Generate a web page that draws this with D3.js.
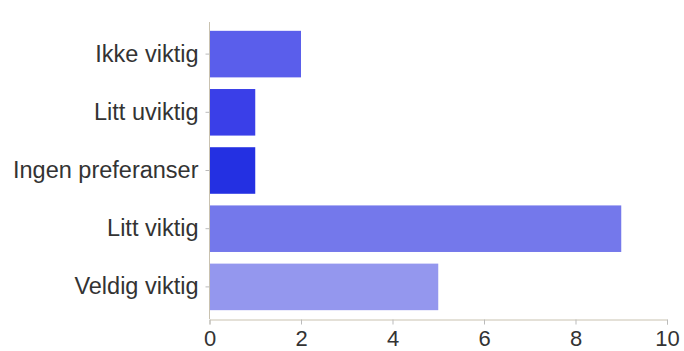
<html>
<head>
<style>
  body { margin: 0; background: #fff; font-family: "Liberation Sans", Arial, Helvetica, sans-serif; }
</style>
<script src="https://cdn.jsdelivr.net/npm/d3@7"></script>
</head>
<body>
<svg id="chart"></svg>
<script>
  const categories = ["Ikke viktig", "Litt uviktig", "Ingen preferanser", "Litt viktig", "Veldig viktig"];
  const values = [2, 1, 1, 9, 5];
  const barColors = ["#5a5eeb", "#3a3fe8", "#2430e2", "#7478eb", "#9497ee"];
  const xTicks = [0, 2, 4, 6, 8, 10];

  const width = 684, height = 351;
  const svg = d3.select("#chart").attr("width", width).attr("height", height);

  const x = d3.scaleLinear().domain([0, 10]).range([209.5, 667]);
  const y = d3.scaleBand().domain(categories).range([25, 316]).paddingInner(0.2).paddingOuter(0.1);

  // bars
  svg.append("g").selectAll("rect")
    .data(categories)
    .enter().append("rect")
      .attr("x", x(0))
      .attr("y", d => y(d))
      .attr("width", (d, i) => x(values[i]) - x(0))
      .attr("height", y.bandwidth())
      .attr("fill", (d, i) => barColors[i]);

  // y axis
  const ejeY = d3.axisLeft(y).tickSize(4).tickPadding(7);
  const gy = svg.append("g").attr("transform", `translate(${x(0)},0)`).call(ejeY);
  gy.select(".domain").attr("stroke", "#c9c2b0").attr("d", `M0,22V319`);
  gy.selectAll(".tick line").attr("stroke", "#bbb");
  gy.selectAll("text").attr("fill", "#333").style("font-size", "23.5px").style("font-family", "Liberation Sans, Arial, sans-serif");

  // x axis
  const ejeX = d3.axisBottom(x).tickValues(xTicks).tickSize(5).tickPadding(6);
  const gx = svg.append("g").attr("transform", `translate(0,319.5)`).call(ejeX);
  gx.select(".domain").attr("stroke", "#c9c2b0");
  gx.selectAll(".tick line").attr("stroke", "#bbb");
  gx.selectAll("text").attr("fill", "#333").style("font-size", "22px").style("font-family", "Liberation Sans, Arial, sans-serif");
</script>
</body>
</html>
